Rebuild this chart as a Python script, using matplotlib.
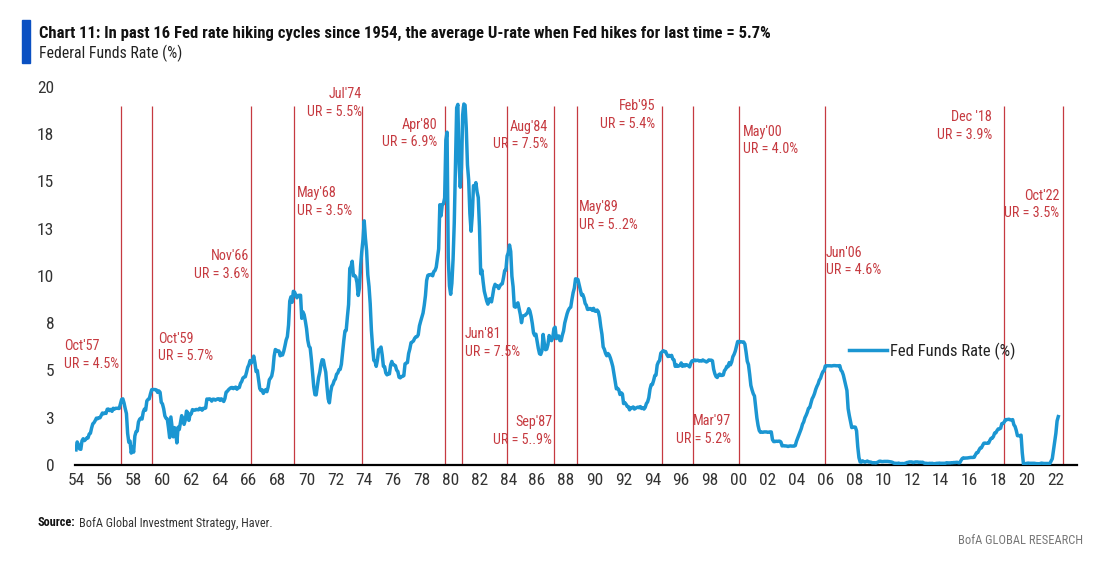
import matplotlib
matplotlib.use("Agg")
import matplotlib.pyplot as plt
from matplotlib import font_manager
from matplotlib.ticker import FixedLocator, FixedFormatter
import numpy as np

# ---------------- data ----------------
# Effective Fed Funds rate, monthly, starting Jul 1954
ffr_1950s = [0.80, 1.22, 1.07, 0.85, 0.83, 1.28,
             1.39, 1.29, 1.35, 1.43, 1.43, 1.64, 1.68, 1.96, 2.18, 2.24, 2.35, 2.48,
             2.45, 2.50, 2.50, 2.62, 2.75, 2.71, 2.75, 2.73, 2.95, 2.96, 2.88, 2.94,
             2.84, 3.00, 2.96, 3.00, 3.00, 3.00, 2.99, 3.24, 3.47, 3.50, 3.28, 2.98,
             2.72, 1.67, 1.20, 1.26, 0.63, 0.93, 0.68, 1.53, 1.76, 1.80, 2.27, 2.42,
             2.48, 2.43, 2.80, 2.96, 2.90, 3.39, 3.47, 3.50, 3.76, 3.98, 4.00, 3.99]
ffr_1960s = [3.99, 3.97, 3.84, 3.92, 3.85, 3.32, 3.23, 2.98, 2.60, 2.47, 2.44, 1.98,
             1.45, 2.54, 2.02, 1.49, 1.98, 1.73, 1.17, 2.00, 1.88, 2.26, 2.61, 2.33,
             2.15, 2.37, 2.85, 2.78, 2.36, 2.68, 2.71, 2.93, 2.90, 2.90, 2.94, 2.93,
             2.92, 3.00, 2.98, 2.90, 3.00, 2.99, 3.02, 3.49, 3.48, 3.50, 3.48, 3.38,
             3.48, 3.48, 3.43, 3.47, 3.50, 3.50, 3.42, 3.50, 3.45, 3.36, 3.52, 3.85,
             3.90, 3.98, 4.04, 4.09, 4.10, 4.04, 4.09, 4.12, 4.01, 4.08, 4.10, 4.32,
             4.42, 4.60, 4.65, 4.67, 4.90, 5.17, 5.30, 5.53, 5.40, 5.53, 5.76, 5.40,
             4.94, 5.00, 4.53, 4.05, 3.94, 3.98, 3.79, 3.90, 3.99, 3.88, 4.13, 4.51,
             4.60, 4.71, 5.05, 5.76, 6.11, 6.07, 6.02, 6.03, 5.78, 5.91, 5.82, 6.02,
             6.30, 6.61, 6.79, 7.41, 8.67, 8.90, 8.61, 9.19, 9.15, 9.00, 8.85, 8.97]
ffr_1970s = [8.98, 8.98, 7.76, 8.10, 7.95, 7.61, 7.21, 6.61, 6.29, 6.20, 5.60, 4.90,
             4.14, 3.72, 3.71, 4.16, 4.63, 4.91, 5.31, 5.57, 5.55, 5.20, 4.91, 4.14,
             3.50, 3.29, 3.83, 4.17, 4.27, 4.46, 4.55, 4.80, 4.87, 5.04, 5.06, 5.33,
             5.94, 6.58, 7.09, 7.12, 7.84, 8.49, 10.40, 10.50, 10.78, 10.01, 10.03, 9.95,
             9.65, 8.97, 9.35, 10.51, 11.31, 11.93, 12.92, 12.01, 11.34, 10.06, 9.45, 8.53,
             7.13, 6.24, 5.54, 5.49, 5.22, 5.55, 6.10, 6.14, 6.24, 5.82, 5.22, 5.20,
             4.87, 4.77, 4.84, 4.82, 5.29, 5.48, 5.31, 5.29, 5.25, 5.02, 4.95, 4.65,
             4.61, 4.68, 4.69, 4.73, 5.35, 5.39, 5.42, 5.90, 6.14, 6.47, 6.51, 6.56,
             6.70, 6.78, 6.79, 6.89, 7.36, 7.60, 7.81, 8.04, 8.45, 8.96, 9.76, 10.03,
             10.07, 10.06, 10.09, 10.01, 10.24, 10.29, 10.47, 10.94, 11.43, 13.77, 13.18, 13.78]
ffr_1980s = [13.82, 14.13, 17.19, 17.61, 10.98, 9.47, 9.03, 9.61, 10.87, 12.81, 15.85, 18.90,
             19.08, 15.93, 14.70, 15.72, 18.52, 19.10, 19.04, 17.82, 15.87, 15.08, 13.31, 12.37,
             13.22, 14.78, 14.68, 14.94, 14.45, 14.15, 12.59, 10.12, 10.31, 9.71, 9.20, 8.95,
             8.68, 8.51, 8.77, 8.80, 8.63, 8.98, 9.37, 9.56, 9.45, 9.48, 9.34, 9.47,
             9.56, 9.59, 9.91, 10.29, 10.32, 11.06, 11.23, 11.64, 11.30, 9.99, 9.43, 8.38,
             8.35, 8.50, 8.58, 8.27, 7.97, 7.53, 7.88, 7.90, 7.92, 7.99, 8.05, 8.27,
             8.14, 7.86, 7.48, 6.99, 6.85, 6.92, 6.56, 6.17, 5.89, 5.85, 6.04, 6.91,
             6.43, 6.10, 6.13, 6.37, 6.85, 6.73, 6.58, 6.73, 7.22, 7.29, 6.69, 6.77,
             6.83, 6.58, 6.58, 6.87, 7.09, 7.51, 7.75, 8.01, 8.19, 8.30, 8.35, 8.76,
             9.12, 9.36, 9.85, 9.84, 9.81, 9.53, 9.24, 8.99, 9.02, 8.84, 8.55, 8.45]
ffr_1990s = [8.23, 8.24, 8.28, 8.26, 8.18, 8.29, 8.15, 8.13, 8.20, 8.11, 7.81, 7.31,
             6.91, 6.25, 6.12, 5.91, 5.78, 5.90, 5.82, 5.66, 5.45, 5.21, 4.81, 4.43,
             4.03, 4.06, 3.98, 3.73, 3.82, 3.76, 3.25, 3.30, 3.22, 3.10, 3.09, 2.92,
             3.02, 3.03, 3.07, 2.96, 3.00, 3.04, 3.06, 3.03, 3.09, 2.99, 3.02, 2.96,
             3.05, 3.25, 3.34, 3.56, 4.01, 4.25, 4.26, 4.47, 4.73, 4.76, 5.29, 5.45,
             5.53, 5.92, 5.98, 6.05, 6.01, 6.00, 5.85, 5.74, 5.80, 5.76, 5.80, 5.60,
             5.56, 5.22, 5.31, 5.22, 5.24, 5.27, 5.40, 5.22, 5.30, 5.24, 5.31, 5.29,
             5.25, 5.19, 5.39, 5.51, 5.50, 5.56, 5.52, 5.54, 5.54, 5.50, 5.52, 5.50,
             5.56, 5.51, 5.49, 5.45, 5.49, 5.56, 5.54, 5.55, 5.51, 5.07, 4.83, 4.68,
             4.63, 4.76, 4.81, 4.74, 4.74, 4.76, 4.99, 5.07, 5.22, 5.20, 5.42, 5.30]
ffr_2000s = [5.45, 5.73, 5.85, 6.02, 6.27, 6.53, 6.54, 6.50, 6.52, 6.51, 6.51, 6.40,
             5.98, 5.49, 5.31, 4.80, 4.21, 3.97, 3.77, 3.65, 3.07, 2.49, 2.09, 1.82,
             1.73, 1.74, 1.73, 1.75, 1.75, 1.75, 1.73, 1.74, 1.75, 1.75, 1.34, 1.24,
             1.24, 1.26, 1.25, 1.26, 1.26, 1.22, 1.01, 1.03, 1.01, 1.01, 1.00, 0.98,
             1.00, 1.01, 1.00, 1.00, 1.00, 1.03, 1.26, 1.43, 1.61, 1.76, 1.93, 2.16,
             2.28, 2.50, 2.63, 2.79, 3.00, 3.04, 3.26, 3.50, 3.62, 3.78, 4.00, 4.16,
             4.29, 4.49, 4.59, 4.79, 4.94, 4.99, 5.24, 5.25, 5.25, 5.25, 5.25, 5.24,
             5.25, 5.26, 5.26, 5.25, 5.25, 5.25, 5.26, 5.02, 4.94, 4.76, 4.49, 4.24,
             3.94, 2.98, 2.61, 2.28, 1.98, 2.00, 2.01, 2.00, 1.81, 0.97, 0.39, 0.16,
             0.15, 0.22, 0.18, 0.15, 0.18, 0.21, 0.16, 0.16, 0.15, 0.12, 0.12, 0.12]
ffr_2010s = [0.11, 0.13, 0.16, 0.20, 0.20, 0.18, 0.18, 0.19, 0.19, 0.19, 0.19, 0.18,
             0.17, 0.16, 0.14, 0.10, 0.09, 0.09, 0.07, 0.10, 0.08, 0.07, 0.08, 0.07,
             0.08, 0.10, 0.13, 0.14, 0.16, 0.16, 0.16, 0.13, 0.14, 0.16, 0.16, 0.16,
             0.14, 0.15, 0.14, 0.15, 0.11, 0.09, 0.09, 0.08, 0.08, 0.09, 0.08, 0.09,
             0.07, 0.07, 0.08, 0.09, 0.09, 0.10, 0.09, 0.09, 0.09, 0.09, 0.09, 0.12,
             0.11, 0.11, 0.11, 0.12, 0.12, 0.13, 0.13, 0.14, 0.14, 0.12, 0.12, 0.24,
             0.34, 0.38, 0.36, 0.37, 0.37, 0.38, 0.39, 0.40, 0.40, 0.40, 0.41, 0.54,
             0.65, 0.66, 0.79, 0.90, 0.91, 1.04, 1.15, 1.16, 1.15, 1.15, 1.16, 1.30,
             1.41, 1.42, 1.51, 1.69, 1.70, 1.82, 1.91, 1.91, 1.95, 2.19, 2.20, 2.27,
             2.40, 2.40, 2.41, 2.42, 2.39, 2.38, 2.40, 2.13, 2.04, 1.83, 1.55, 1.55]
ffr_2020s = [1.55, 1.58, 0.65, 0.05, 0.05, 0.08, 0.09, 0.10, 0.09, 0.09, 0.09, 0.09,
             0.09, 0.08, 0.07, 0.07, 0.06, 0.08, 0.10, 0.09, 0.08, 0.08, 0.08, 0.08,
             0.08, 0.08, 0.20, 0.33, 0.77, 1.21, 1.68, 2.33, 2.56]
start_year = 1954.5   # July 1954

# last-hike markers (decimal year as drawn) and their labels
hike_dates = [1957.60, 1959.75, 1966.64, 1969.61, 1974.35, 1980.11, 1981.31, 1984.39,
              1987.69, 1989.29, 1995.19, 1997.34, 2000.49, 2006.46, 2018.90, 2022.97]
hike_names = ["Oct'57", "Oct'59", "Nov'66", "May'68", "Jul'74", "Apr'80", "Jun'81", "Aug'84",
              "Sep'87", "May'89", "Feb'95", "Mar'97", "May'00", "Jun'06", "Dec '18", "Oct'22"]
hike_ur = ["UR = 4.5%", "UR = 5.7%", "UR = 3.6%", "UR = 3.5%", "UR = 5.5%", "UR = 6.9%",
           "UR = 7.5%", "UR = 7.5%", "UR = 5..9%", "UR = 5..2%", "UR = 5.4%", "UR = 5.2%",
           "UR = 4.0%", "UR = 4.6%", "UR = 3.9%", "UR = 3.5%"]

x_tick_years = list(range(1954, 2023, 2))
y_ticks = [0, 2.5, 5, 7.5, 10, 12.5, 15, 17.5, 20]
y_tick_labels = ["0", "3", "5", "8", "10", "13", "15", "18", "20"]

# ---------------- layout (pixels) ----------------
# label anchor (px x, px y-center, ha)
label_pos = [(64, 355, "left"), (158, 347.5, "left"), (249, 265, "right"), (297, 202, "left"),
             (362, 103, "right"), (437, 133.5, "right"), (465, 343, "left"), (548, 135.5, "right"),
             (552, 431, "right"), (579, 216, "left"), (655, 115, "right"), (731, 430, "right"),
             (743, 140.5, "left"), (826, 261.5, "left"), (992, 126, "right"), (1059, 204.5, "right")]

names = {f.name for f in font_manager.fontManager.ttflist}
cond = None
for cand in ["Liberation Sans Narrow", "Roboto Condensed", "Open Sans Condensed", "DejaVu Sans Condensed"]:
    if cand in names:
        cond = cand
        break
if cond is None:
    cond = "DejaVu Sans"
plt.rcParams["font.family"] = [cond, "DejaVu Sans"]

W, H, DPI = 1100, 563, 100
fig = plt.figure(figsize=(W / DPI, H / DPI), dpi=DPI)
fig.patch.set_facecolor("white")

ax_l, ax_r, ax_t, ax_b = 75, 1077, 87, 465
ax = fig.add_axes([ax_l / W, 1 - ax_b / H, (ax_r - ax_l) / W, (ax_b - ax_t) / H])

px_per_year = 14.41
x0 = start_year - (76 - ax_l) / px_per_year
x1 = start_year + (ax_r - 76) / px_per_year
ax.set_xlim(x0, x1)
ax.set_ylim(0, 20)

def px2data(px, py):
    return (start_year + (px - 76) / px_per_year, (ax_b - py) / (ax_b - ax_t) * 20)

series = np.array(ffr_1950s + ffr_1960s + ffr_1970s + ffr_1980s + ffr_1990s
                  + ffr_2000s + ffr_2010s + ffr_2020s)
xs = start_year + np.arange(len(series)) / 12.0

red = "#C63A40"
ax.vlines(hike_dates, 0, 19.0, colors=red, linewidth=0.9, zorder=2)
line, = ax.plot(xs, series, color="#1B96D2", linewidth=2.5, zorder=3,
                solid_joinstyle="round", label="Fed Funds Rate (%)")

for (px, py, ha), nm, ur in zip(label_pos, hike_names, hike_ur):
    dx, dy = px2data(px, py)
    ax.text(dx, dy, nm + "\n" + ur, ha=ha, va="center", color=red,
            fontsize=10.2, linespacing=1.3, zorder=4, multialignment=ha)

for s in ["top", "right", "left"]:
    ax.spines[s].set_visible(False)
ax.spines["bottom"].set_linewidth(1.6)
ax.spines["bottom"].set_color("black")

ax.xaxis.set_major_locator(FixedLocator([start_year + (y - 1954) for y in x_tick_years]))
ax.xaxis.set_major_formatter(FixedFormatter([f"{y % 100:02d}" for y in x_tick_years]))
ax.yaxis.set_major_locator(FixedLocator(y_ticks))
ax.yaxis.set_major_formatter(FixedFormatter(y_tick_labels))
ax.tick_params(axis="x", length=0, pad=6, labelsize=12.5, colors="#333333")
ax.tick_params(axis="y", length=0, pad=15, labelsize=12.5, colors="#333333")

ax.legend(handles=[line], loc="center left",
          bbox_to_anchor=((849 - ax_l) / (ax_r - ax_l), (ax_b - 351.5) / (ax_b - ax_t)),
          frameon=False, borderpad=0, borderaxespad=0, handlelength=2.3, handletextpad=0.15,
          fontsize=12, labelcolor="#222222")

# header
fig.patches.append(plt.Rectangle((22 / W, 1 - 63 / H), 8 / W, 43 / H,
                                 transform=fig.transFigure, color="#0A50C2"))
title = fig.text(39 / W, 1 - 33 / H,
                 "Chart 11: In past 16 Fed rate hiking cycles since 1954, the average U-rate when Fed hikes for last time = 5.7%",
                 fontsize=12, fontweight="bold", va="center", ha="left", color="#111111")
sub = fig.text(39 / W, 1 - 53 / H, "Federal Funds Rate (%)", fontsize=11.5, va="center",
               ha="left", color="#222222")

fig.text(38 / W, 1 - 523 / H, "Source:", fontsize=8.8, fontweight="bold", va="center",
         ha="left", color="#111111")
fig.text(79 / W, 1 - 523 / H, "BofA Global Investment Strategy, Haver.", fontsize=8.8,
         va="center", ha="left", color="#333333")
fig.text(1083 / W, 1 - 541 / H, "BofA GLOBAL RESEARCH", fontsize=9, va="center", ha="right",
         color="#777777")

# fit header widths to the reference
fig.canvas.draw()
r = fig.canvas.get_renderer()
for t, target in [(title, 731), (sub, 143)]:
    w = t.get_window_extent(r).width
    t.set_fontsize(t.get_fontsize() * target / w)

fig.savefig("out.png", dpi=DPI, facecolor="white")
